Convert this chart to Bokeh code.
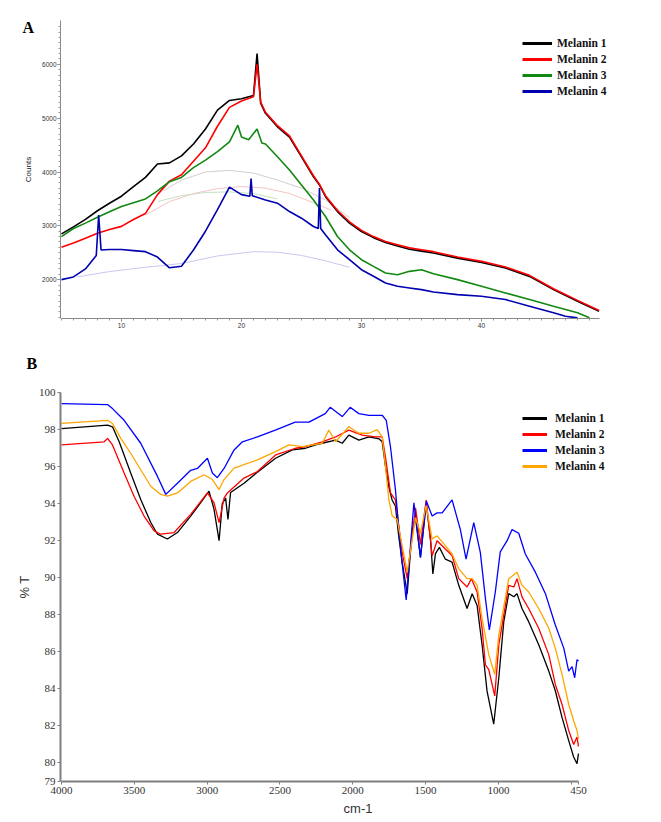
from bokeh.plotting import figure
from bokeh.layouts import column
from bokeh.models import Legend, LegendItem, FixedTicker, Range1d
from bokeh.embed import file_html
from bokeh.resources import INLINE

# ---------------- Panel A : XRD ----------------
m1_x = [5, 6, 7, 8, 9, 10, 11, 12, 13, 14, 15, 16, 17, 18, 19, 20, 21, 21.3, 21.6, 22, 23, 24, 25, 26, 26.5, 27, 28, 29, 30, 31, 32, 33, 34, 35, 36, 38, 40, 42, 44, 46, 48, 49.8]
m1_y = [2850, 2980, 3120, 3280, 3420, 3550, 3730, 3900, 4150, 4170, 4300, 4520, 4800, 5150, 5330, 5360, 5420, 6200, 5280, 5090, 4840, 4650, 4280, 3910, 3760, 3540, 3265, 3050, 2895, 2780, 2690, 2625, 2565, 2530, 2495, 2400, 2320, 2215, 2060, 1815, 1600, 1414]

m2_x = [5, 6, 7, 8, 9, 10, 11, 12, 13, 14, 15, 16, 17, 18, 19, 20, 21, 21.3, 21.6, 22, 23, 24, 25, 26, 26.5, 27, 28, 29, 30, 31, 32, 33, 34, 35, 36, 38, 40, 42, 44, 46, 48, 49.8]
m2_y = [2600, 2680, 2770, 2860, 2930, 2990, 3117, 3230, 3580, 3830, 3950, 4200, 4450, 4850, 5200, 5320, 5400, 6000, 5300, 5110, 4860, 4670, 4300, 3930, 3770, 3560, 3285, 3075, 2915, 2800, 2710, 2650, 2590, 2555, 2520, 2420, 2340, 2235, 2080, 1830, 1615, 1425]

m3_x = [5, 6, 7, 8, 9, 10, 11, 12, 13, 14, 15, 16, 17, 18, 19, 19.7, 20, 20.6, 21.3, 21.7, 22, 23, 24, 25, 26, 27, 28, 29, 30, 31, 32, 33, 34, 35, 36, 38, 40, 42, 44, 46, 48, 49]
m3_y = [2800, 2950, 3050, 3160, 3260, 3360, 3430, 3500, 3650, 3820, 3900, 4080, 4220, 4380, 4560, 4870, 4650, 4600, 4800, 4540, 4520, 4284, 4037, 3759, 3481, 3173, 2802, 2555, 2370, 2247, 2123, 2092, 2154, 2185, 2110, 2000, 1876, 1753, 1630, 1506, 1383, 1290]

m4_x = [5, 6, 7, 7.9, 8.1, 8.3, 9, 10, 11, 12, 13, 14, 15, 16, 17, 18, 19, 20, 20.7, 20.8, 20.9, 22, 23, 24, 25, 26, 26.4, 26.5, 26.6, 27, 28, 29, 30, 31, 32, 33, 34, 35, 36, 38, 40, 42, 44, 46, 47, 48]
m4_y = [2000, 2050, 2200, 2450, 3200, 2550, 2560, 2560, 2540, 2520, 2420, 2220, 2250, 2550, 2900, 3300, 3720, 3580, 3550, 3880, 3560, 3481, 3420, 3265, 3142, 2988, 2950, 3700, 2950, 2833, 2555, 2370, 2185, 2062, 1938, 1877, 1846, 1815, 1770, 1722, 1691, 1630, 1506, 1383, 1321, 1290]

# faint amorphous background curves
bg1_x = [13.5, 15, 17, 19, 21, 23, 25, 27, 29]
bg1_y = [3650, 3850, 4000, 4030, 3980, 3850, 3700, 3480, 3150]
bg2_x = [12, 14, 16, 18, 20, 22, 24, 26, 27.5]
bg2_y = [3200, 3450, 3600, 3690, 3730, 3700, 3600, 3430, 3290]
bg3_x = [13, 15, 17, 19, 21, 23]
bg3_y = [3450, 3560, 3620, 3630, 3600, 3500]
bg4_x = [6.3, 9, 12, 15, 18, 21, 23, 25, 27, 29]
bg4_y = [2050, 2150, 2230, 2300, 2440, 2520, 2510, 2450, 2350, 2230]

xrd_xticks = [10, 20, 30, 40]
xrd_yticks = [2000, 3000, 4000, 5000, 6000]

# ---------------- Panel B : FTIR ----------------
f1_x = [4000, 3684, 3650, 3604, 3525, 3456, 3387, 3341, 3273, 3204, 3113, 3044, 2987, 2953, 2918, 2896, 2873, 2857, 2839, 2747, 2655, 2530, 2415, 2324, 2255, 2210, 2118, 2072, 2027, 1958, 1889, 1820, 1798, 1775, 1752, 1730, 1707, 1685, 1661, 1626, 1592, 1569, 1535, 1496, 1466, 1450, 1432, 1405, 1364, 1318, 1272, 1215, 1180, 1146, 1112, 1078, 1032, 997, 963, 929, 894, 872, 838, 792, 723, 654, 609, 563, 517, 483, 460, 450]
f1_y = [98.05, 98.24, 98.15, 97.34, 95.65, 94.22, 92.98, 92.35, 92.09, 92.44, 93.33, 94.05, 94.67, 93.7, 92.0, 94.0, 94.3, 93.15, 94.6, 95.1, 95.7, 96.45, 96.9, 96.99, 97.17, 97.26, 97.43, 97.26, 97.7, 97.43, 97.6, 97.5, 97.34, 96.0, 94.9, 94.2, 93.87, 92.3, 90.84, 89.14, 92.6, 93.24, 91.1, 94.05, 92.09, 90.2, 91.3, 91.64, 91.0, 90.84, 89.59, 88.34, 89.14, 88.5, 86.38, 83.89, 82.1, 84.6, 87.63, 89.14, 88.97, 89.14, 88.34, 87.63, 86.38, 84.96, 83.9, 82.46, 81.21, 80.32, 79.96, 80.5]

f2_x = [4000, 3707, 3684, 3650, 3570, 3502, 3433, 3364, 3319, 3227, 3113, 2998, 2953, 2918, 2884, 2861, 2747, 2655, 2530, 2393, 2324, 2210, 2118, 2027, 1935, 1844, 1798, 1775, 1741, 1707, 1661, 1626, 1569, 1535, 1496, 1455, 1421, 1364, 1318, 1272, 1215, 1185, 1146, 1112, 1089, 1066, 1025, 997, 929, 894, 872, 838, 792, 723, 654, 609, 563, 517, 483, 460, 450]
f2_y = [97.17, 97.34, 97.52, 97.17, 95.65, 94.4, 93.33, 92.53, 92.35, 92.44, 93.42, 94.58, 94.05, 92.98, 94.3, 94.58, 95.38, 95.73, 96.63, 96.99, 97.08, 97.34, 97.6, 97.97, 97.7, 97.6, 97.6, 96.5, 94.58, 94.2, 91.4, 89.95, 93.78, 91.8, 94.19, 91.19, 92.0, 91.55, 91.2, 89.95, 89.5, 89.95, 89.23, 87.27, 85.3, 85.04, 83.62, 86.38, 89.59, 89.5, 89.95, 88.97, 88.34, 87.27, 85.85, 84.24, 83.17, 81.75, 81.0, 81.4, 80.9]

f3_x = [4000, 3684, 3650, 3570, 3456, 3341, 3284, 3204, 3113, 3067, 2998, 2964, 2930, 2884, 2815, 2758, 2655, 2532, 2395, 2301, 2189, 2155, 2072, 2018, 1958, 1889, 1798, 1770, 1741, 1707, 1683, 1665, 1633, 1580, 1535, 1494, 1455, 1421, 1386, 1318, 1261, 1222, 1169, 1124, 1089, 1062, 1021, 987, 940, 906, 860, 815, 746, 677, 609, 551, 517, 494, 476, 460, 450]
f3_y = [99.4, 99.35, 99.13, 98.5, 97.26, 95.47, 94.5, 95.1, 95.8, 95.9, 96.45, 95.65, 95.4, 95.9, 96.9, 97.34, 97.6, 97.97, 98.4, 98.4, 98.86, 99.2, 98.7, 99.2, 98.86, 98.77, 98.77, 98.5, 97.07, 94.76, 92.6, 91.1, 88.8, 94.05, 91.1, 94.13, 93.33, 93.5, 93.5, 94.2, 92.6, 91.0, 92.98, 91.37, 88.88, 87.18, 89.23, 91.4, 92.0, 92.6, 92.4, 91.28, 90.3, 89.14, 87.45, 86.2, 84.96, 85.2, 84.6, 85.58, 85.5]

f4_x = [4000, 3684, 3650, 3593, 3525, 3456, 3387, 3319, 3273, 3204, 3113, 3021, 2964, 2918, 2884, 2815, 2655, 2530, 2439, 2347, 2210, 2164, 2118, 2027, 1958, 1889, 1832, 1798, 1775, 1752, 1729, 1695, 1661, 1626, 1569, 1535, 1496, 1455, 1421, 1364, 1318, 1272, 1215, 1180, 1146, 1112, 1066, 1025, 997, 929, 872, 838, 792, 723, 654, 609, 563, 517, 483, 460, 450]
f4_y = [98.33, 98.5, 98.33, 97.52, 96.72, 95.83, 94.94, 94.5, 94.4, 94.58, 95.2, 95.56, 95.3, 94.76, 95.3, 95.92, 96.36, 96.81, 97.17, 97.08, 97.26, 97.97, 97.34, 98.15, 97.8, 97.8, 98.0, 97.6, 96.0, 94.22, 93.33, 93.15, 91.73, 90.3, 93.24, 92.4, 93.9, 92.09, 92.26, 91.73, 91.28, 90.48, 89.95, 89.95, 89.6, 87.8, 85.85, 84.78, 86.9, 89.95, 90.3, 89.6, 89.23, 88.34, 87.27, 86.2, 84.78, 83.17, 82.28, 81.75, 81.3]

ftir_xticks = [4000, 3500, 3000, 2500, 2000, 1500, 1000, 500, 450]
ftir_yticks = [79, 80, 82, 84, 86, 88, 90, 92, 94, 96, 98, 100]

names = ["Melanin 1", "Melanin 2", "Melanin 3", "Melanin 4"]
colors_a = ["#000000", "#ff0000", "#118811", "#0000b0"]
colors_b = ["#000000", "#ff0000", "#0000ff", "#ffa500"]
nan = float("nan")

W = 660


def style_letter(t, txt, offset, standoff):
    t.text = txt
    t.align = "left"
    t.offset = offset
    t.standoff = standoff
    t.text_font = "Liberation Serif"
    t.text_font_style = "bold"
    t.text_font_size = "16px"
    t.text_color = "#000000"


# ---------------- figure A ----------------
pA = figure(width=W, height=330, x_range=Range1d(4.92, 54.5), y_range=Range1d(1278, 6815),
            output_backend="svg", toolbar_location=None,
            min_border_left=60, min_border_right=5, min_border_top=20, min_border_bottom=12)
pA.outline_line_color = None
pA.grid.visible = False
style_letter(pA.title, "A", -38, -31)

for bx, by, c in [(bg1_x, bg1_y, "#d6cccc"), (bg2_x, bg2_y, "#f2c4c4"),
                  (bg3_x, bg3_y, "#c4e0c4"), (bg4_x, bg4_y, "#c8c8f0")]:
    pA.line(bx, by, line_color=c, line_width=1)

seriesA = [(m1_x, m1_y), (m2_x, m2_y), (m3_x, m3_y), (m4_x, m4_y)]
for (sx, sy), c in zip(seriesA, colors_a):
    pA.line(sx, sy, line_color=c, line_width=1.6)

legA_items = []
for n, c in zip(names, colors_a):
    r = pA.line([nan], [nan], line_color=c, line_width=3)
    legA_items.append(LegendItem(label=n, renderers=[r]))
legA = Legend(items=legA_items, location=(462, 219), border_line_color=None,
              background_fill_alpha=0, padding=0, margin=0, spacing=0,
              glyph_width=30, glyph_height=16, label_height=16, label_standoff=5,
              label_text_font="Liberation Serif", label_text_font_style="bold",
              label_text_font_size="11.5px", label_text_color="#111111")
pA.add_layout(legA)

pA.xaxis.ticker = FixedTicker(ticks=xrd_xticks, minor_ticks=list(range(5, 50)))
pA.xaxis.bounds = (5, 49.8)
pA.yaxis.ticker = FixedTicker(ticks=xrd_yticks, minor_ticks=list(range(1300, 6800, 100)))
for ax in [pA.xaxis[0], pA.yaxis[0]]:
    ax.axis_line_color = "#888888"
    ax.major_tick_line_color = "#777777"
    ax.minor_tick_line_color = "#999999"
    ax.major_tick_out = 3
    ax.major_tick_in = 0
    ax.minor_tick_out = 2
    ax.minor_tick_in = 0
    ax.major_label_text_font = "Liberation Sans"
    ax.major_label_text_font_size = "6.5px"
    ax.major_label_text_color = "#333333"
    ax.major_label_standoff = 1
pA.yaxis.axis_label = "Counts"
pA.yaxis.axis_label_text_font = "Liberation Sans"
pA.yaxis.axis_label_text_font_size = "8px"
pA.yaxis.axis_label_text_font_style = "normal"
pA.yaxis.axis_label_text_color = "#222222"
pA.yaxis.axis_label_standoff = 6

# ---------------- figure B ----------------
pB = figure(width=W, height=490, x_range=Range1d(4007, -79), y_range=Range1d(79, 100),
            output_backend="svg", toolbar_location=None,
            min_border_left=60, min_border_right=5, min_border_top=62, min_border_bottom=39)
pB.outline_line_color = None
pB.grid.visible = False
style_letter(pB.title, "B", -34, 42)

seriesB = [(f1_x, f1_y), (f2_x, f2_y), (f3_x, f3_y), (f4_x, f4_y)]
for (sx, sy), c in zip(seriesB, colors_b):
    pB.line(sx, sy, line_color=c, line_width=1.3)

legB_items = []
for n, c in zip(names, colors_b):
    r = pB.line([nan], [nan], line_color=c, line_width=3)
    legB_items.append(LegendItem(label=n, renderers=[r]))
legB = Legend(items=legB_items, location=(462, 307), border_line_color=None,
              background_fill_alpha=0, padding=0, margin=0, spacing=0,
              glyph_width=25, glyph_height=16, label_height=16, label_standoff=8,
              label_text_font="Liberation Serif", label_text_font_style="bold",
              label_text_font_size="11.5px", label_text_color="#111111")
pB.add_layout(legB)

pB.xaxis.ticker = FixedTicker(ticks=ftir_xticks)
pB.xaxis.major_label_overrides = {500: ""}
pB.xaxis.bounds = (450, 4000)
pB.yaxis.ticker = FixedTicker(ticks=ftir_yticks)
for ax in [pB.xaxis[0], pB.yaxis[0]]:
    ax.axis_line_color = "#7f7f7f"
    ax.axis_line_width = 2
    ax.major_tick_line_color = "#7f7f7f"
    ax.major_tick_out = 3
    ax.major_tick_in = 0
    ax.minor_tick_line_color = None
    ax.major_label_text_font = "Liberation Sans Narrow"
    ax.major_label_text_font_size = "11px"
    ax.major_label_text_color = "#333333"
    ax.major_label_standoff = 2
pB.xaxis.axis_label = "cm-1"
pB.yaxis.axis_label = "% T"
for ax in [pB.xaxis[0], pB.yaxis[0]]:
    ax.axis_label_text_font = "Liberation Sans"
    ax.axis_label_text_font_size = "13px"
    ax.axis_label_text_font_style = "normal"
    ax.axis_label_text_color = "#333333"
    ax.axis_label_standoff = 4

layout = column(pA, pB, spacing=0)
open("out.html", "w").write(file_html(layout, INLINE))
